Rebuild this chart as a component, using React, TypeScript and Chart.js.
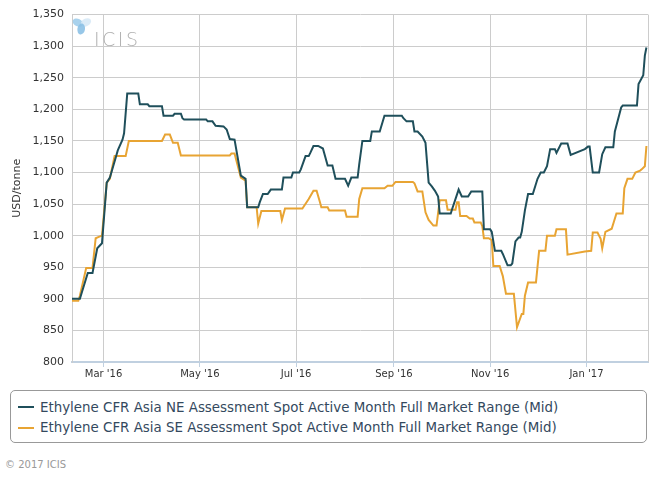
import React, { useEffect, useRef } from "react";
import { Chart, registerables } from "chart.js";

Chart.register(...registerables);

const neDates = [
  "2016-02-10", "2016-02-15", "2016-02-20", "2016-02-23", "2016-02-26", "2016-02-29",
  "2016-03-03", "2016-03-05", "2016-03-09", "2016-03-10", "2016-03-13", "2016-03-14",
  "2016-03-16", "2016-03-23", "2016-03-24", "2016-03-29", "2016-03-30", "2016-04-07",
  "2016-04-08", "2016-04-14", "2016-04-15", "2016-04-19", "2016-04-20", "2016-04-21",
  "2016-05-05", "2016-05-06", "2016-05-09", "2016-05-11", "2016-05-16", "2016-05-18",
  "2016-05-20", "2016-05-23", "2016-05-27", "2016-05-30", "2016-05-31", "2016-06-07",
  "2016-06-08", "2016-06-10", "2016-06-13", "2016-06-15", "2016-06-22", "2016-06-23",
  "2016-06-28", "2016-06-29", "2016-07-03", "2016-07-04", "2016-07-07", "2016-07-09",
  "2016-07-10", "2016-07-12", "2016-07-15", "2016-07-18", "2016-07-21", "2016-07-24",
  "2016-07-26", "2016-08-01", "2016-08-03", "2016-08-05", "2016-08-09", "2016-08-10",
  "2016-08-12", "2016-08-17", "2016-08-18", "2016-08-23", "2016-08-26", "2016-09-06",
  "2016-09-07", "2016-09-09", "2016-09-13", "2016-09-14", "2016-09-16", "2016-09-19",
  "2016-09-21", "2016-09-23", "2016-09-25", "2016-09-27", "2016-09-29", "2016-09-30",
  "2016-10-07", "2016-10-08", "2016-10-12", "2016-10-14", "2016-10-18", "2016-10-20",
  "2016-10-27", "2016-10-28", "2016-11-01", "2016-11-02", "2016-11-04", "2016-11-08",
  "2016-11-09", "2016-11-12", "2016-11-14", "2016-11-15", "2016-11-17", "2016-11-19",
  "2016-11-20", "2016-11-21", "2016-11-23", "2016-11-25", "2016-11-28", "2016-12-01",
  "2016-12-03", "2016-12-05", "2016-12-07", "2016-12-09", "2016-12-12", "2016-12-13",
  "2016-12-16", "2016-12-20", "2016-12-22", "2016-12-31", "2017-01-02", "2017-01-03",
  "2017-01-05", "2017-01-09", "2017-01-11", "2017-01-13", "2017-01-18", "2017-01-19",
  "2017-01-23", "2017-01-24", "2017-02-02", "2017-02-03", "2017-02-06", "2017-02-07",
  "2017-02-08",
];
const neValues = [
  900, 900, 941, 941, 980, 988,
  1084, 1092, 1126, 1135, 1152, 1162,
  1225, 1225, 1208, 1208, 1205, 1205,
  1190, 1190, 1193, 1193, 1186, 1184,
  1184, 1181, 1181, 1174, 1173, 1168,
  1153, 1152, 1095, 1090, 1045, 1045,
  1053, 1066, 1066, 1073, 1073, 1092,
  1092, 1100, 1100, 1105, 1126, 1126,
  1131, 1142, 1142, 1138, 1111, 1111,
  1090, 1090, 1079, 1092, 1092, 1113,
  1150, 1150, 1165, 1165, 1190, 1190,
  1186, 1181, 1181, 1165, 1165, 1157,
  1147, 1084, 1078, 1071, 1062, 1035,
  1035, 1043, 1073, 1062, 1062, 1070,
  1070, 1010, 1010, 1006, 976, 976,
  971, 953, 953, 956, 991, 997,
  997, 1006, 1040, 1066, 1066, 1090,
  1100, 1100, 1110, 1137, 1137, 1131,
  1146, 1146, 1128, 1137, 1141, 1141,
  1100, 1100, 1129, 1140, 1140, 1165,
  1203, 1206, 1206, 1240, 1254, 1285,
  1298,
];

const seDates = [
  "2016-02-10", "2016-02-14", "2016-02-15", "2016-02-19", "2016-02-23", "2016-02-25",
  "2016-02-27", "2016-02-29", "2016-03-03", "2016-03-05", "2016-03-08", "2016-03-15",
  "2016-03-17", "2016-04-07", "2016-04-09", "2016-04-12", "2016-04-14", "2016-04-17",
  "2016-04-19", "2016-05-20", "2016-05-21", "2016-05-23", "2016-05-27", "2016-05-30",
  "2016-05-31", "2016-06-06", "2016-06-07", "2016-06-09", "2016-06-21", "2016-06-22",
  "2016-06-24", "2016-07-05", "2016-07-09", "2016-07-12", "2016-07-14", "2016-07-16",
  "2016-07-17", "2016-07-21", "2016-07-22", "2016-08-01", "2016-08-02", "2016-08-09",
  "2016-08-10", "2016-08-12", "2016-08-26", "2016-08-28", "2016-08-31", "2016-09-02",
  "2016-09-13", "2016-09-14", "2016-09-16", "2016-09-19", "2016-09-21", "2016-09-23",
  "2016-09-26", "2016-09-28", "2016-09-30", "2016-10-04", "2016-10-05", "2016-10-10",
  "2016-10-11", "2016-10-12", "2016-10-13", "2016-10-17", "2016-10-19", "2016-10-21",
  "2016-10-22", "2016-10-26", "2016-10-27", "2016-10-28", "2016-10-31", "2016-11-02",
  "2016-11-03", "2016-11-07", "2016-11-09", "2016-11-11", "2016-11-16", "2016-11-18",
  "2016-11-21", "2016-11-22", "2016-11-23", "2016-11-25", "2016-11-30", "2016-12-02",
  "2016-12-06", "2016-12-07", "2016-12-12", "2016-12-13", "2016-12-19", "2016-12-20",
  "2016-12-31", "2017-01-04", "2017-01-05", "2017-01-08", "2017-01-10", "2017-01-11",
  "2017-01-13", "2017-01-17", "2017-01-20", "2017-01-24", "2017-01-25", "2017-01-27",
  "2017-01-30", "2017-02-01", "2017-02-04", "2017-02-05", "2017-02-07", "2017-02-08",
];
const seValues = [
  897, 897, 905, 949, 949, 996,
  998, 1000, 1084, 1090, 1126, 1126,
  1150, 1150, 1160, 1160, 1147, 1147,
  1127, 1127, 1130, 1130, 1092, 1087,
  1045, 1045, 1019, 1039, 1039, 1025,
  1043, 1043, 1058, 1071, 1071, 1054,
  1045, 1045, 1040, 1040, 1030, 1030,
  1058, 1075, 1075, 1079, 1079, 1085,
  1085, 1083, 1070, 1070, 1037, 1025,
  1016, 1016, 1056, 1056, 1041, 1041,
  1053, 1053, 1031, 1031, 1027, 1027,
  1021, 1021, 1015, 996, 996, 993,
  952, 952, 936, 908, 908, 855,
  876, 876, 905, 926, 926, 976,
  976, 1000, 1000, 1010, 1010, 970,
  975, 976, 1005, 1005, 995, 980,
  1006, 1011, 1035, 1035, 1075, 1090,
  1090, 1100, 1103, 1105, 1110, 1142,
];

const seriesNames = [
  "Ethylene CFR Asia NE Assessment Spot Active Month Full Market Range (Mid)",
  "Ethylene CFR Asia SE Assessment Spot Active Month Full Market Range (Mid)",
];
const seriesColors = ["#1f4f5b", "#e8a433"];

const xStart = "2016-02-10";
const xEnd = "2017-02-09";
const monthTickDates = ["2016-03-01", "2016-05-01", "2016-07-01", "2016-09-01", "2016-11-01", "2017-01-01"];
const monthTickLabels = ["Mar '16", "May '16", "Jul '16", "Sep '16", "Nov '16", "Jan '17"];
const yMin = 800;
const yMax = 1350;
const yStep = 50;
const yTitle = "USD/tonne";
const copyright = "© 2017 ICIS";
const logoText = "ICIS";

const toDay = (s: string) => {
  const [y, m, d] = s.split("-").map(Number);
  return (Date.UTC(y, m - 1, d) - Date.UTC(2016, 0, 1)) / 86400000;
};

const FONT = "'DejaVu Sans', 'Lucida Grande', sans-serif";

const framePlugin = {
  id: "frameAndLogo",
  beforeDatasetsDraw(chart: any) {
    const { ctx, chartArea } = chart;
    ctx.save();
    // right border
    ctx.strokeStyle = "#cccccc";
    ctx.lineWidth = 1;
    ctx.beginPath();
    ctx.moveTo(Math.round(chartArea.right) + 0.5, chartArea.top);
    ctx.lineTo(Math.round(chartArea.right) + 0.5, chartArea.bottom);
    ctx.stroke();
    // logo petals
    const cx = chartArea.left + 10;
    const cy = chartArea.top + 10;
    const petals = [
      { a: -2.7, c: "rgba(160,205,235,0.9)" },
      { a: -0.5, c: "rgba(215,233,246,0.9)" },
      { a: 1.75, c: "rgba(140,193,230,0.9)" },
    ];
    petals.forEach((p) => {
      ctx.save();
      ctx.translate(cx + Math.cos(p.a) * 4.5, cy + Math.sin(p.a) * 4.5);
      ctx.rotate(p.a);
      ctx.fillStyle = p.c;
      ctx.beginPath();
      ctx.ellipse(0, 0, 5.5, 3.8, 0, 0, Math.PI * 2);
      ctx.fill();
      ctx.restore();
    });
    ctx.fillStyle = "#b0b0b0";
    ctx.font = "200 19px 'DejaVu Sans', sans-serif";
    try {
      (ctx as any).letterSpacing = "2.5px";
    } catch (e) {}
    ctx.textBaseline = "alphabetic";
    ctx.textAlign = "left";
    ctx.fillText(logoText, chartArea.left + 22, chartArea.top + 31);
    ctx.restore();
  },
};

function ChartView() {
  const ref = useRef<HTMLCanvasElement | null>(null);
  useEffect(() => {
    if (!ref.current) return;
    const neData = neDates.map((d, i) => ({ x: toDay(d), y: neValues[i] }));
    const seData = seDates.map((d, i) => ({ x: toDay(d), y: seValues[i] }));
    const tickDays = monthTickDates.map(toDay);
    const chart = new Chart(ref.current, {
      type: "line",
      data: {
        datasets: [
          {
            label: seriesNames[0],
            data: neData,
            borderColor: seriesColors[0],
            backgroundColor: seriesColors[0],
            borderWidth: 2,
            pointRadius: 0,
            tension: 0,
          },
          {
            label: seriesNames[1],
            data: seData,
            borderColor: seriesColors[1],
            backgroundColor: seriesColors[1],
            borderWidth: 2,
            pointRadius: 0,
            tension: 0,
          },
        ],
      },
      options: {
        animation: false,
        responsive: false,
        events: [],
        layout: { padding: { left: 0, right: 20, top: 10, bottom: 0 } },
        plugins: { legend: { display: false }, tooltip: { enabled: false } },
        scales: {
          x: {
            type: "linear",
            min: toDay(xStart),
            max: toDay(xEnd),
            afterBuildTicks: (scale: any) => {
              scale.ticks = tickDays.map((v) => ({ value: v }));
            },
            afterFit: (scale: any) => {
              scale.height = 18;
            },
            ticks: {
              autoSkip: false,
              maxRotation: 0,
              padding: 1,
              color: "#333333",
              font: { family: FONT, size: 10 },
              callback: (_v: any, i: number) => monthTickLabels[i],
            },
            grid: {
              color: "#cccccc",
              lineWidth: 1,
              drawTicks: true,
              tickLength: 5,
              tickColor: "#c0d0e0",
            },
            border: { display: true, color: "#c0d0e0", width: 2 },
          },
          y: {
            min: yMin,
            max: yMax,
            afterFit: (scale: any) => {
              scale.width = 72;
            },
            ticks: {
              stepSize: yStep,
              padding: 8,
              color: "#333333",
              font: { family: FONT, size: 11 },
              callback: (v: any) => Number(v).toLocaleString("en-US"),
            },
            grid: { color: "#cccccc", lineWidth: 1, drawTicks: false },
            border: { display: true, color: "#cccccc", width: 1 },
            title: {
              display: true,
              text: yTitle,
              color: "#333333",
              font: { family: FONT, size: 11 },
              padding: { top: 11, bottom: 0 },
            },
          },
        },
      },
      plugins: [framePlugin],
    } as any);
    return () => chart.destroy();
  }, []);
  return (
    <canvas
      ref={ref}
      width={668}
      height={380}
      style={{ position: "absolute", left: 0, top: 0, width: 668, height: 380 }}
    />
  );
}

export default function App() {
  return (
    <div
      style={{
        position: "fixed",
        left: 0,
        top: 0,
        width: 668,
        height: 478,
        background: "#ffffff",
        overflow: "hidden",
        fontFamily: FONT,
      }}
    >
      <ChartView />
      <div
        style={{
          position: "absolute",
          left: 10,
          top: 390,
          width: 637,
          height: 53,
          border: "1px solid #999999",
          borderRadius: 5,
          boxSizing: "border-box",
        }}
      >
        {seriesNames.map((name, i) => (
          <div
            key={name}
            style={{
              position: "absolute",
              left: 0,
              top: 6 + i * 20.7,
              height: 20,
              display: "flex",
              alignItems: "center",
              whiteSpace: "nowrap",
            }}
          >
            <span
              style={{
                display: "inline-block",
                marginLeft: 7,
                width: 16,
                height: 2,
                background: seriesColors[i],
              }}
            />
            <span
              style={{
                marginLeft: 6,
                fontSize: 13.4,
                color: "#34495e",
              }}
            >
              {name}
            </span>
          </div>
        ))}
      </div>
      <div
        style={{
          position: "absolute",
          left: 5,
          top: 459,
          fontSize: 10,
          color: "#999999",
          whiteSpace: "nowrap",
        }}
      >
        {copyright}
      </div>
    </div>
  );
}
